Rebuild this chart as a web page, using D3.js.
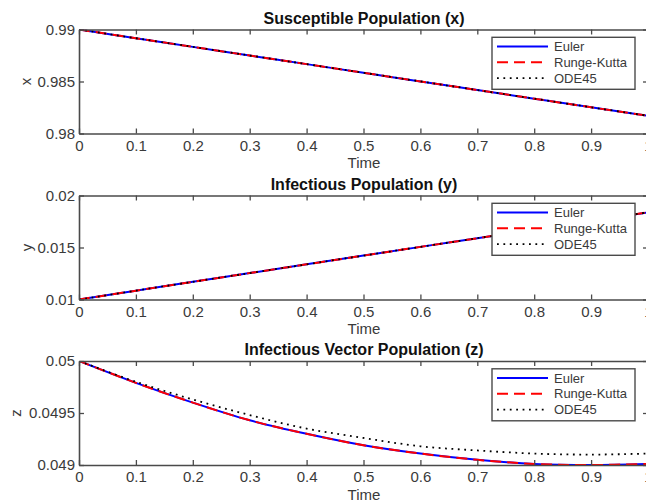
<!DOCTYPE html>
<html><head><meta charset="utf-8">
<script src="https://cdn.jsdelivr.net/npm/d3@7"></script>
<style>
body{margin:0;background:#fff;}
svg{display:block;font-family:"Liberation Sans",Arial,Helvetica,sans-serif;}
</style></head>
<body><svg id="c" width="646" height="501"></svg>
<script>
const time = [0,0.1,0.2,0.3,0.4,0.5,0.6,0.7,0.8,0.9,1.0];
const xEuler = [0.99,0.98916,0.98833,0.9875,0.98667,0.98584,0.98501,0.98418,0.98335,0.98252,0.9817];
const xRK    = [0.99,0.98916,0.98833,0.9875,0.98667,0.98584,0.98501,0.98418,0.98335,0.98252,0.9817];
const xODE   = [0.99,0.98916,0.98833,0.9875,0.98667,0.98584,0.98501,0.98418,0.98335,0.98252,0.9817];
const yEuler = [0.01,0.01085,0.0117,0.01254,0.01338,0.01422,0.01506,0.01589,0.01672,0.01755,0.01838];
const yRK    = [0.01,0.01085,0.0117,0.01254,0.01338,0.01422,0.01506,0.01589,0.01672,0.01755,0.01838];
const yODE   = [0.01,0.01085,0.0117,0.01254,0.01338,0.01422,0.01506,0.01589,0.01672,0.01755,0.01838];
const zEuler = [0.05,0.04979,0.0496,0.04943,0.0493,0.04919,0.04911,0.04905,0.04901,0.049,0.04901];
const zRK    = [0.05,0.04979,0.0496,0.04943,0.0493,0.04919,0.04911,0.04905,0.04901,0.049,0.04901];
const zODE   = [0.05,0.0498,0.04963,0.04948,0.04935,0.04926,0.04918,0.04914,0.04911,0.0491,0.04911];
const xTicks = [0,0.1,0.2,0.3,0.4,0.5,0.6,0.7,0.8,0.9,1];
const seriesNames = ["Euler","Runge-Kutta","ODE45"];
const panels = [
  {title:"Susceptible Population (x)", ylab:"x", labX:26, dom:[0.98,0.99], ticks:[0.98,0.985,0.99], fmt:d=>String(+d.toFixed(3)), data:[xEuler,xRK,xODE], top:29.5},
  {title:"Infectious Population (y)", ylab:"y", labX:27, dom:[0.01,0.02], ticks:[0.01,0.015,0.02], fmt:d=>String(+d.toFixed(3)), data:[yEuler,yRK,yODE], top:195.5},
  {title:"Infectious Vector Population (z)", ylab:"z", labX:16, dom:[0.049,0.05], ticks:[0.049,0.0495,0.05], fmt:d=>String(+d.toFixed(4)), data:[zEuler,zRK,zODE], top:361}
];
const styles = [
  {color:"#0000ff", w:2, dash:null},
  {color:"#ff0000", w:2, dash:"11,6"},
  {color:"#000000", w:1.8, dash:"1.8,4.6"}
];
const svg = d3.select("#c");
const L = 79, R = 648, H = 104;
const axCol = "#4a4a4a", txtCol = "#3a3a3a";
const x = d3.scaleLinear().domain([0,1]).range([L,R]);
panels.forEach(p => {
  const y = d3.scaleLinear().domain(p.dom).range([p.top+H, p.top]);
  const g = svg.append("g");
  const clipId = "clip"+p.ylab;
  g.append("clipPath").attr("id",clipId).append("rect").attr("x",L).attr("y",p.top).attr("width",R-L).attr("height",H);
  const lines = g.append("g").attr("clip-path",`url(#${clipId})`);
  p.data.forEach((arr,i) => {
    const line = d3.line().x((d,j)=>x(time[j])).y(d=>y(d)).curve(d3.curveCatmullRom);
    lines.append("path").attr("d",line(arr)).attr("fill","none")
      .attr("stroke",styles[i].color).attr("stroke-width",styles[i].w)
      .attr("stroke-dasharray",styles[i].dash);
  });
  const bottom = g.append("g").attr("transform",`translate(0,${p.top+H})`)
    .call(d3.axisBottom(x).tickValues(xTicks).tickSizeInner(-5).tickSizeOuter(0).tickPadding(6.5).tickFormat(d=>String(d)));
  const top = g.append("g").attr("transform",`translate(0,${p.top})`)
    .call(d3.axisTop(x).tickValues(xTicks).tickSizeInner(-5).tickSizeOuter(0).tickFormat(""));
  const left = g.append("g").attr("transform",`translate(${L},0)`)
    .call(d3.axisLeft(y).tickValues(p.ticks).tickSizeInner(-5).tickSizeOuter(0).tickPadding(4).tickFormat(p.fmt));
  const right = g.append("g").attr("transform",`translate(${R},0)`)
    .call(d3.axisRight(y).tickValues(p.ticks).tickSizeInner(-5).tickSizeOuter(0).tickFormat(""));
  [bottom,top,left,right].forEach(a => {
    a.selectAll("path.domain").attr("stroke",axCol).attr("stroke-width",1.6);
    a.selectAll(".tick line").attr("stroke",axCol).attr("stroke-width",1.3);
    a.selectAll("text").attr("fill",txtCol).style("font-size","15px").style("font-family","inherit");
  });
  g.append("text").attr("x",364).attr("y",p.top-6).attr("text-anchor","middle")
    .style("font-size","16px").style("font-weight","bold").attr("fill","#111").text(p.title);
  g.append("text").attr("x",364).attr("y",p.top+H+34.5).attr("text-anchor","middle")
    .style("font-size","15px").attr("fill",txtCol).text("Time");
  g.append("text").attr("transform",`translate(${p.labX},${y((p.dom[0]+p.dom[1])/2)}) rotate(-90)`)
    .attr("text-anchor","middle").attr("dy","0.3em").style("font-size","15px").attr("fill",txtCol).text(p.ylab);
  const lx = 492, ly = p.top+7.8, lw = 143, lh = 52;
  const lg = g.append("g");
  lg.append("rect").attr("x",lx).attr("y",ly).attr("width",lw).attr("height",lh)
    .attr("fill","#fff").attr("stroke",axCol).attr("stroke-width",1.4);
  seriesNames.forEach((n,i) => {
    const yy = ly + 9.2 + i*15.8;
    lg.append("line").attr("x1",lx+5).attr("x2",lx+56).attr("y1",yy).attr("y2",yy)
      .attr("stroke",styles[i].color).attr("stroke-width",styles[i].w).attr("stroke-dasharray",styles[i].dash);
    lg.append("text").attr("x",lx+62).attr("y",yy).attr("dy","0.35em")
      .style("font-size","13px").attr("fill",txtCol).text(n);
  });
});
</script></body></html>
